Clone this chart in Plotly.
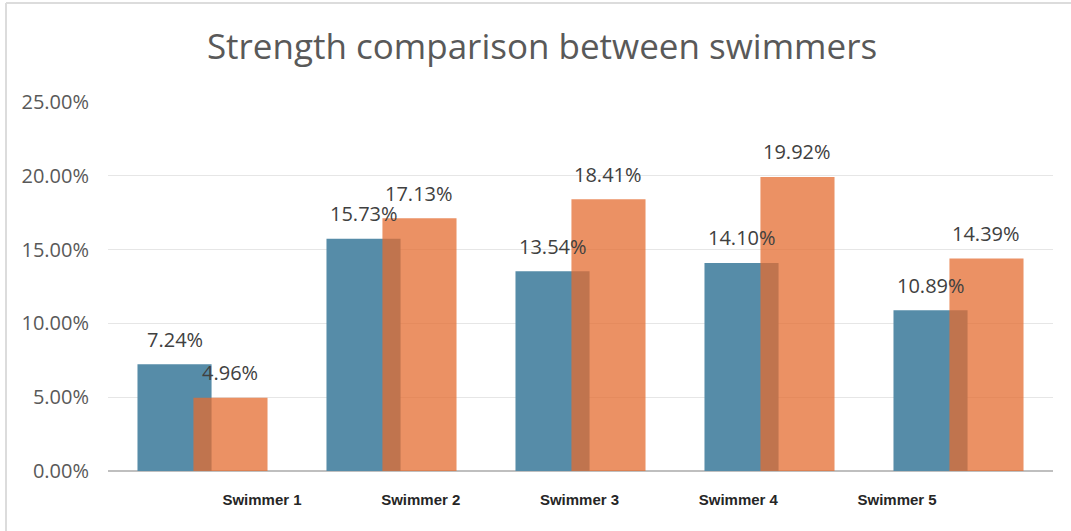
import plotly.graph_objects as go

categories = ["Swimmer 1", "Swimmer 2", "Swimmer 3", "Swimmer 4", "Swimmer 5"]
series_a = [0.0724, 0.1573, 0.1354, 0.1410, 0.1089]
series_b = [0.0496, 0.1713, 0.1841, 0.1992, 0.1439]
y_ticks = [0.0, 0.05, 0.10, 0.15, 0.20, 0.25]

BLUE = "rgb(86,140,168)"
ORANGE = "rgba(228,108,48,0.75)"
BAR_W = 0.392
OFF_A = -0.344
OFF_B = -0.048

idx = list(range(len(categories)))

fig = go.Figure()
# carrier trace for the category label axis (drawn first, underneath)
fig.add_trace(go.Scatter(x=idx, y=[None] * len(idx), xaxis="x", yaxis="y",
                         mode="markers", showlegend=False, hoverinfo="skip"))
fig.add_trace(go.Bar(x=idx, y=series_a, width=BAR_W, offset=OFF_A, xaxis="x2", yaxis="y",
                     marker=dict(color=BLUE, line=dict(width=0)), name="A"))
fig.add_trace(go.Bar(x=idx, y=series_b, width=BAR_W, offset=OFF_B, xaxis="x2", yaxis="y",
                     marker=dict(color=ORANGE, line=dict(width=0)), name="B"))

annos = []
for i, (a, b) in enumerate(zip(series_a, series_b)):
    for v, off in ((a, OFF_A), (b, OFF_B)):
        annos.append(dict(x=i + off + BAR_W / 2, y=v, xref="x2", yref="y",
                          text=f"{v*100:.2f}%", showarrow=False,
                          yanchor="middle", yshift=25,
                          font=dict(family="Open Sans", size=20, color="#404040")))

fig.update_layout(
    width=1071, height=531,
    margin=dict(l=108, r=18, t=102, b=60),
    paper_bgcolor="white", plot_bgcolor="rgba(0,0,0,0)",
    showlegend=False, barmode="overlay",
    title=dict(text="Strength comparison between swimmers", x=542 / 1071, xref="container",
               xanchor="center", y=1 - 47 / 531, yanchor="middle",
               font=dict(family="Open Sans", size=35, color="#595959")),
    xaxis=dict(range=[-0.5, 4.5], domain=[0.079, 0.919], anchor="y",
               tickmode="array", tickvals=idx, ticktext=categories,
               showgrid=False, zeroline=False, showline=False, ticks="",
               ticklabelstandoff=18,
               tickfont=dict(family="Liberation Sans", size=15, color="#262626",
                             weight="bold")),
    xaxis2=dict(range=[-0.5, 4.5], domain=[0, 1], anchor="y",
                showticklabels=False, showgrid=False,
                zeroline=False, showline=False, ticks=""),
    yaxis=dict(range=[0, 0.25], tickvals=y_ticks, tickformat=".2%", anchor="x2",
               showgrid=True, gridcolor="#e6e6e6", gridwidth=1,
               zeroline=True, zerolinecolor="#bfbfbf", zerolinewidth=2,
               showline=False, ticks="", ticklabelstandoff=18,
               tickfont=dict(family="Open Sans", size=20, color="#595959")),
    annotations=annos,
    shapes=[dict(type="line", xref="paper", yref="paper",
                 x0=(6 - 108) / 945, x1=(6 - 108) / 945, y0=-60 / 369, y1=(531 - 3 - 60) / 369,
                 line=dict(color="#dcdcdc", width=2)),
            dict(type="line", xref="paper", yref="paper",
                 x0=(6 - 108) / 945, x1=(1071 - 108) / 945,
                 y0=(531 - 3 - 60) / 369, y1=(531 - 3 - 60) / 369,
                 line=dict(color="#dcdcdc", width=2))],
)

fig.write_html("out.html")
